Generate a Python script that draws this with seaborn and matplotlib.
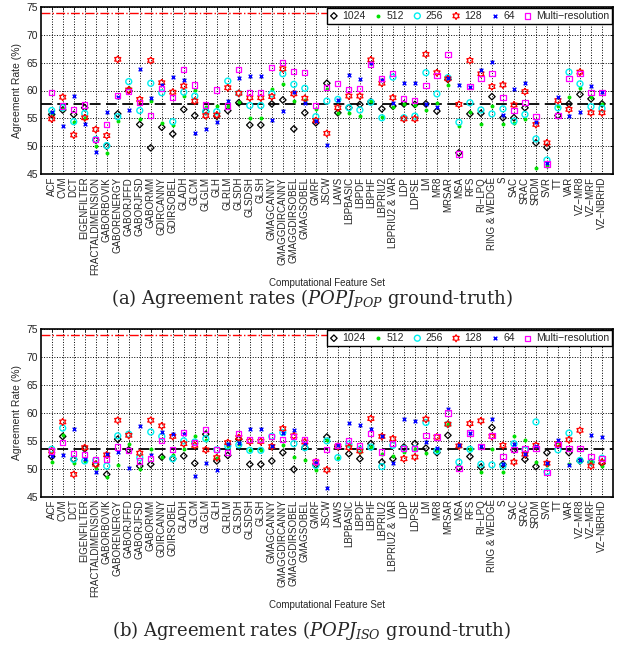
import numpy as np
import pandas as pd
import matplotlib
matplotlib.use("Agg")
import matplotlib.pyplot as plt
import seaborn as sns

categories = ["ACF", "CVM", "DCT", "EIGENFILTER", "FRACTALDIMENSION", "GABORBOVIK",
              "GABORENERGY", "GABORJFFD", "GABORJFSD", "GABORMM", "GDIRCANNY", "GDIRSOBEL",
              "GLADH", "GLCM", "GLGLM", "GLH", "GLRLM", "GLSDH", "GLSDSH", "GLSH",
              "GMAGCANNY", "GMAGGDIRCANNY", "GMAGGDIRSOBEL", "GMAGSOBEL", "GMRF", "JSCW",
              "LAWS", "LBPBASIC", "LBPDF", "LBPHF", "LBPRIU2", "LBPRIU2 & VAR", "LDP",
              "LDPSE", "LM", "MR8", "MRSAR", "MSA", "RFS", "RI\u2212LPQ", "RING & WEDGE", "S",
              "SAC", "SRAC", "SRDM", "SVR", "TT", "VAR", "VZ\u2212MR8", "VZ\u2212MRF", "VZ\u2212NBRHD"]

series_names = ["1024", "512", "256", "128", "64", "Multi\u2212resolution"]

# ---- (a) POPJ_POP ground truth ----
pop_1024 = [55.7, 56.5, 55.7, 56.9, 51.1, 50.0, 55.8, 60.0, 53.9, 49.7, 53.4, 52.2, 56.6,
            55.5, 56.2, 55.4, 56.4, 57.8, 53.8, 53.8, 57.6, 58.3, 53.1, 56.0, 54.2, 61.3,
            56.0, 56.9, 57.5, 58.0, 56.7, 57.2, 57.6, 57.5, 57.6, 56.3, 62.0, 48.8, 55.8,
            55.9, 58.9, 55.1, 55.1, 56.9, 50.6, 49.8, 55.5, 57.6, 59.3, 58.5, 57.6]
pop_512 = [55.9, 56.7, 54.3, 55.0, 50.0, 48.7, 54.6, 60.4, 54.8, 58.2, 54.2, 53.8, 59.0,
           60.1, 57.0, 57.2, 57.2, 57.9, 55.1, 55.1, 60.2, 61.2, 58.1, 58.3, 56.6, 60.2,
           56.0, 55.9, 55.5, 58.1, 55.3, 57.1, 57.5, 57.4, 56.5, 57.8, 61.0, 53.6, 56.2,
           54.0, 57.3, 54.0, 54.2, 54.9, 46.0, 46.4, 57.2, 58.9, 60.5, 58.8, 57.6]
pop_256 = [56.4, 56.9, 54.4, 55.9, 51.2, 50.1, 55.3, 61.6, 56.4, 61.3, 59.6, 54.4, 59.7,
           59.0, 56.3, 56.2, 61.7, 59.5, 57.3, 57.3, 59.4, 63.0, 61.1, 60.4, 55.3, 58.1,
           58.4, 56.9, 56.5, 57.9, 55.1, 62.4, 55.1, 55.4, 63.2, 59.4, 62.3, 54.3, 57.8,
           56.5, 55.8, 56.7, 54.5, 55.7, 51.3, 47.5, 56.9, 63.3, 61.2, 57.1, 56.8]
pop_128 = [54.9, 58.8, 52.0, 55.1, 53.0, 51.9, 65.6, 60.1, 58.4, 65.4, 61.4, 59.7, 60.8,
           58.1, 55.5, 55.6, 60.5, 59.5, 58.7, 58.7, 58.9, 63.9, 59.4, 58.6, 54.6, 52.3,
           56.9, 59.0, 59.0, 65.5, 61.3, 58.7, 54.9, 54.9, 66.5, 63.2, 62.1, 57.5, 65.4,
           63.0, 60.7, 61.0, 57.4, 59.8, 53.9, 50.6, 58.2, 56.6, 63.3, 56.0, 56.0]
pop_64 = [56.2, 53.7, 59.0, 54.0, 49.0, 56.1, 58.8, 56.5, 63.8, 58.7, 60.9, 62.4, 61.9,
          52.3, 53.1, 54.3, 58.2, 62.2, 62.6, 62.6, 54.7, 56.4, 59.7, 57.7, 54.5, 50.2,
          58.3, 62.8, 62.0, 64.9, 61.8, 57.8, 61.3, 61.4, 57.6, 57.0, 62.2, 61.0, 60.7,
          63.6, 65.1, 55.6, 60.2, 61.4, 54.4, 46.9, 58.9, 55.4, 56.2, 60.8, 59.7]
pop_multi = [59.6, 57.2, 56.6, 57.4, 51.2, 53.9, 59.1, 59.8, 57.9, 55.5, 60.4, 58.7, 63.8,
             61.0, 57.4, 60.1, 57.2, 63.8, 59.6, 59.6, 64.2, 65.1, 63.4, 63.2, 57.3, 60.6,
             61.2, 60.2, 60.3, 64.7, 62.2, 63.0, 58.5, 58.2, 60.9, 62.7, 66.4, 48.6, 60.7,
             62.1, 63.0, 58.7, 56.4, 57.8, 55.4, 46.8, 55.5, 62.2, 63.0, 59.6, 59.7]
pop_mean = 57.6
pop_upper = 74.0

# ---- (b) POPJ_ISO ground truth ----
iso_1024 = [52.2, 55.8, 51.7, 53.6, 50.8, 49.0, 55.3, 53.4, 50.5, 50.8, 52.1, 51.8, 52.3,
            51.0, 56.2, 51.4, 52.4, 55.3, 50.8, 50.8, 51.4, 52.9, 49.9, 53.8, 50.7, 55.7,
            54.0, 52.7, 51.8, 54.5, 51.2, 51.8, 53.9, 54.5, 53.7, 52.9, 56.0, 50.2, 52.2,
            50.3, 57.4, 50.8, 53.4, 51.7, 50.4, 52.9, 54.2, 52.9, 51.4, 51.2, 51.0]
iso_512 = [51.3, 56.1, 51.0, 51.4, 50.1, 48.5, 50.7, 54.5, 50.0, 53.6, 52.1, 52.5, 53.6,
           55.8, 55.2, 51.9, 54.1, 54.4, 53.3, 53.3, 53.9, 54.3, 52.1, 51.6, 49.8, 55.2,
           52.0, 54.2, 53.0, 53.9, 52.6, 52.3, 53.1, 53.6, 52.9, 53.2, 58.0, 54.0, 53.6,
           49.4, 53.5, 49.4, 55.8, 55.2, 51.2, 50.6, 54.8, 50.8, 51.4, 51.2, 50.5]
iso_256 = [53.5, 57.3, 51.7, 51.4, 51.5, 50.5, 55.9, 56.2, 52.0, 56.6, 55.8, 51.8, 55.0,
           54.8, 55.4, 53.4, 54.1, 54.3, 53.3, 53.3, 55.8, 56.5, 54.5, 53.8, 50.6, 55.0,
           52.0, 54.4, 53.5, 53.9, 50.4, 54.2, 53.6, 53.6, 58.3, 53.2, 58.0, 51.2, 53.5,
           50.8, 50.7, 50.5, 54.5, 53.4, 58.4, 49.5, 53.4, 56.4, 51.5, 51.2, 51.9]
iso_128 = [53.2, 58.4, 49.0, 53.8, 50.8, 52.5, 58.7, 56.0, 52.8, 58.7, 57.7, 55.8, 54.5,
           54.2, 53.4, 52.0, 54.7, 55.6, 54.9, 54.9, 54.0, 57.2, 55.9, 54.8, 51.2, 49.8,
           54.0, 53.8, 53.2, 59.0, 55.8, 55.4, 51.8, 52.1, 58.9, 55.7, 58.0, 54.1, 58.1,
           58.6, 55.8, 54.2, 51.2, 52.6, 54.2, 51.0, 54.5, 55.2, 56.9, 50.5, 51.2]
iso_64 = [52.3, 52.5, 57.2, 51.8, 49.5, 52.7, 53.1, 50.1, 57.7, 52.5, 56.6, 56.2, 56.2,
          48.7, 51.1, 49.8, 54.5, 54.6, 57.1, 57.1, 54.0, 56.5, 57.0, 54.7, 51.1, 46.5,
          54.2, 58.2, 57.8, 57.2, 55.9, 51.1, 58.9, 58.6, 54.8, 53.7, 60.8, 54.3, 56.4,
          54.1, 58.9, 50.8, 54.5, 52.7, 54.0, 51.1, 55.2, 50.6, 51.6, 56.0, 55.7]
iso_multi = [53.2, 54.7, 52.8, 52.6, 51.7, 51.7, 53.9, 53.3, 51.4, 51.9, 55.0, 53.5, 56.5,
             54.7, 57.0, 53.5, 52.9, 56.3, 55.3, 55.3, 55.8, 55.3, 55.8, 55.3, 51.3, 53.4,
             54.2, 55.0, 54.2, 56.3, 53.0, 54.5, 53.7, 53.6, 56.0, 55.7, 60.0, 50.1, 56.4,
             54.0, 56.0, 52.2, 53.4, 53.6, 53.6, 49.3, 54.4, 53.7, 53.6, 52.2, 51.9]
iso_mean = 53.6
iso_upper = 74.0

yticks = [45, 50, 55, 60, 65, 70, 75]

# ---------------------------------------------------------------
sns.set_theme(style="white")
plt.rcParams["font.family"] = ["Liberation Sans", "DejaVu Sans"]
plt.rcParams["mathtext.fontset"] = "dejavuserif"

ang = np.deg2rad(90 + 30 * np.arange(12))
rad = np.array([1.0, 0.58] * 6)
hexagram = [(float(r * np.cos(a)), float(r * np.sin(a))) for r, a in zip(rad, ang)]
hexagram.append(hexagram[0])

styles = [
    dict(marker="D", color="black", s=11, fill=False, lw=0.9),
    dict(marker="o", color="#00e000", s=8, fill=True, lw=0.0),
    dict(marker="o", color="#00f0f0", s=18, fill=False, lw=1.0),
    dict(marker=hexagram, color="red", s=26, fill=False, lw=0.9),
    dict(marker="x", color="blue", s=7, fill=None, lw=1.0),
    dict(marker="s", color="magenta", s=14, fill=False, lw=0.9),
]

fig = plt.figure(figsize=(6.23, 6.5), dpi=100)
ax1 = fig.add_axes([40.7 / 623, 1 - 174 / 650, (613 - 40.7) / 623, 167 / 650])
ax2 = fig.add_axes([40.7 / 623, 1 - 496.7 / 650, (613 - 40.7) / 623, 167.4 / 650])


def draw(ax, series, mean_val, upper_val):
    ax.axhline(upper_val, color="red", ls="-.", lw=1.0, zorder=1)
    ax.axhline(mean_val, color="black", ls="--", lw=1.3, dashes=(6, 3), zorder=1)
    for name, vals, st in zip(series_names, series, styles):
        df = pd.DataFrame({"Feature": categories, "Rate": vals})
        kw = dict(marker=st["marker"], s=st["s"], linewidth=st["lw"], label=name, zorder=3)
        if st["fill"] is False:
            kw.update(facecolor="none", edgecolor=st["color"], color=st["color"])
        elif st["fill"] is True:
            kw.update(color=st["color"], edgecolor=st["color"])
        else:
            kw.update(color=st["color"])
        sns.scatterplot(data=df, x="Feature", y="Rate", ax=ax, legend=False, **kw)
    ax.set_xlim(-1, len(categories))
    ax.set_ylim(45, 75)
    ax.set_yticks(yticks)
    ax.set_xticks(range(len(categories)))
    ax.set_xticklabels(categories, rotation=90, fontsize=7)
    ax.tick_params(axis="y", labelsize=7.5)
    ax.tick_params(direction="in", top=True, right=True, length=2.5, width=0.6,
                   color="black", pad=2)
    ax.grid(True, ls=":", color="black", lw=0.7)
    for sp in ax.spines.values():
        sp.set_color("black")
        sp.set_linewidth(1.2)
    ax.set_ylabel("Agreement Rate (%)", fontsize=7.5, labelpad=3)
    ax.set_xlabel("Computational Feature Set", fontsize=7)
    ax.xaxis.set_label_coords(0.5, -0.62)
    leg = ax.legend(ncol=6, loc="upper right", fontsize=7.5, frameon=True, fancybox=False,
                    framealpha=1, edgecolor="black", borderaxespad=0.05, handlelength=0.8,
                    handletextpad=0.4, columnspacing=0.85, borderpad=0.3, scatterpoints=1)
    leg.get_frame().set_linewidth(1.0)
    leg.set_zorder(5)


draw(ax1, [pop_1024, pop_512, pop_256, pop_128, pop_64, pop_multi], pop_mean, pop_upper)
draw(ax2, [iso_1024, iso_512, iso_256, iso_128, iso_64, iso_multi], iso_mean, iso_upper)

fig.text(0.5, 1 - 298 / 650, r"(a) Agreement rates ($\mathit{POPJ}_{\mathit{POP}}$ ground-truth)",
         ha="center", va="center", fontsize=13, family="DejaVu Serif")
fig.text(0.5, 1 - 630 / 650, r"(b) Agreement rates ($\mathit{POPJ}_{\mathit{ISO}}$ ground-truth)",
         ha="center", va="center", fontsize=13, family="DejaVu Serif")

fig.savefig("out.png", dpi=100, facecolor="white")
